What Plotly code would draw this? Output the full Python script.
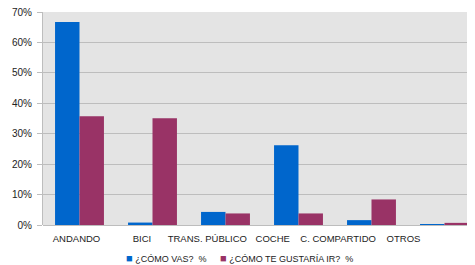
import plotly.graph_objects as go

categories = ["ANDANDO", "BICI", "TRANS. PÚBLICO", "COCHE", "C. COMPARTIDO", "OTROS"]
como_vas = [66.7, 0.8, 4.3, 26.2, 1.6, 0.2]
como_gustaria = [35.7, 35.1, 3.8, 3.8, 8.4, 0.7]
series_names = ["¿CÓMO VAS?  %", "¿CÓMO TE GUSTARÍA IR?  %"]
series_colors = ["#0066CC", "#993366"]
y_ticks = [0, 10, 20, 30, 40, 50, 60, 70]
y_tick_labels = [f"{v}%" for v in y_ticks]

fig = go.Figure()
fig.add_trace(go.Bar(x=list(range(len(categories))), y=como_vas, name=series_names[0],
                     marker=dict(color=series_colors[0], line=dict(width=0))))
fig.add_trace(go.Bar(x=list(range(len(categories))), y=como_gustaria, name=series_names[1],
                     marker=dict(color=series_colors[1], line=dict(width=0))))

# the page body adds an 8px margin, so the figure is 8px smaller than the window
fig.update_layout(
    width=467, height=257,
    margin=dict(l=35, r=0, t=4, b=40),
    paper_bgcolor="white",
    plot_bgcolor="#E4E4E4",
    barmode="group",
    bargap=0.33,
    bargroupgap=0,
    font=dict(family="Liberation Sans, Arial, sans-serif", size=10, color="#222222"),
    showlegend=False,
    xaxis=dict(range=[-0.5, 5.418], showgrid=False, ticks="", showline=False,
               showticklabels=False, zeroline=False, automargin=False),
    # label axis: category names spaced as in the reference
    xaxis2=dict(overlaying="x", side="bottom", range=[-0.512, 6.093],
                tickvals=list(range(len(categories))), ticktext=categories,
                showgrid=False, ticks="outside", ticklen=5, tickcolor="rgba(0,0,0,0)",
                showline=False, zeroline=False,
                tickfont=dict(size=9.5, color="#222222"), automargin=False),
    yaxis=dict(range=[0, 70], tickvals=y_ticks, ticktext=y_tick_labels,
               showgrid=True, gridcolor="#BDBDBD", gridwidth=1,
               ticks="outside", ticklen=5, tickcolor="#BDBDBD",
               showline=True, linecolor="#BDBDBD", linewidth=1,
               zeroline=True, zerolinecolor="#BDBDBD", zerolinewidth=1,
               ticklabelstandoff=3, ticklabeloverflow="allow",
               tickfont=dict(size=10), automargin=False),
)
# invisible trace so the label axis renders
fig.add_trace(go.Scatter(x=[0], y=[0], xaxis="x2", mode="markers",
                         marker=dict(opacity=0), hoverinfo="skip", showlegend=False))

# legend drawn as text with coloured square glyphs
legend_x = [0.187, 0.404]
for name, color, lx in zip(series_names, series_colors, legend_x):
    fig.add_annotation(x=lx, y=-0.155, xref="paper", yref="paper",
                       xanchor="left", yanchor="middle", showarrow=False,
                       text=f"<span style='color:{color};font-size:11px'>■</span> {name}",
                       font=dict(size=9, color="#222222"))

fig.write_html("out.html")
